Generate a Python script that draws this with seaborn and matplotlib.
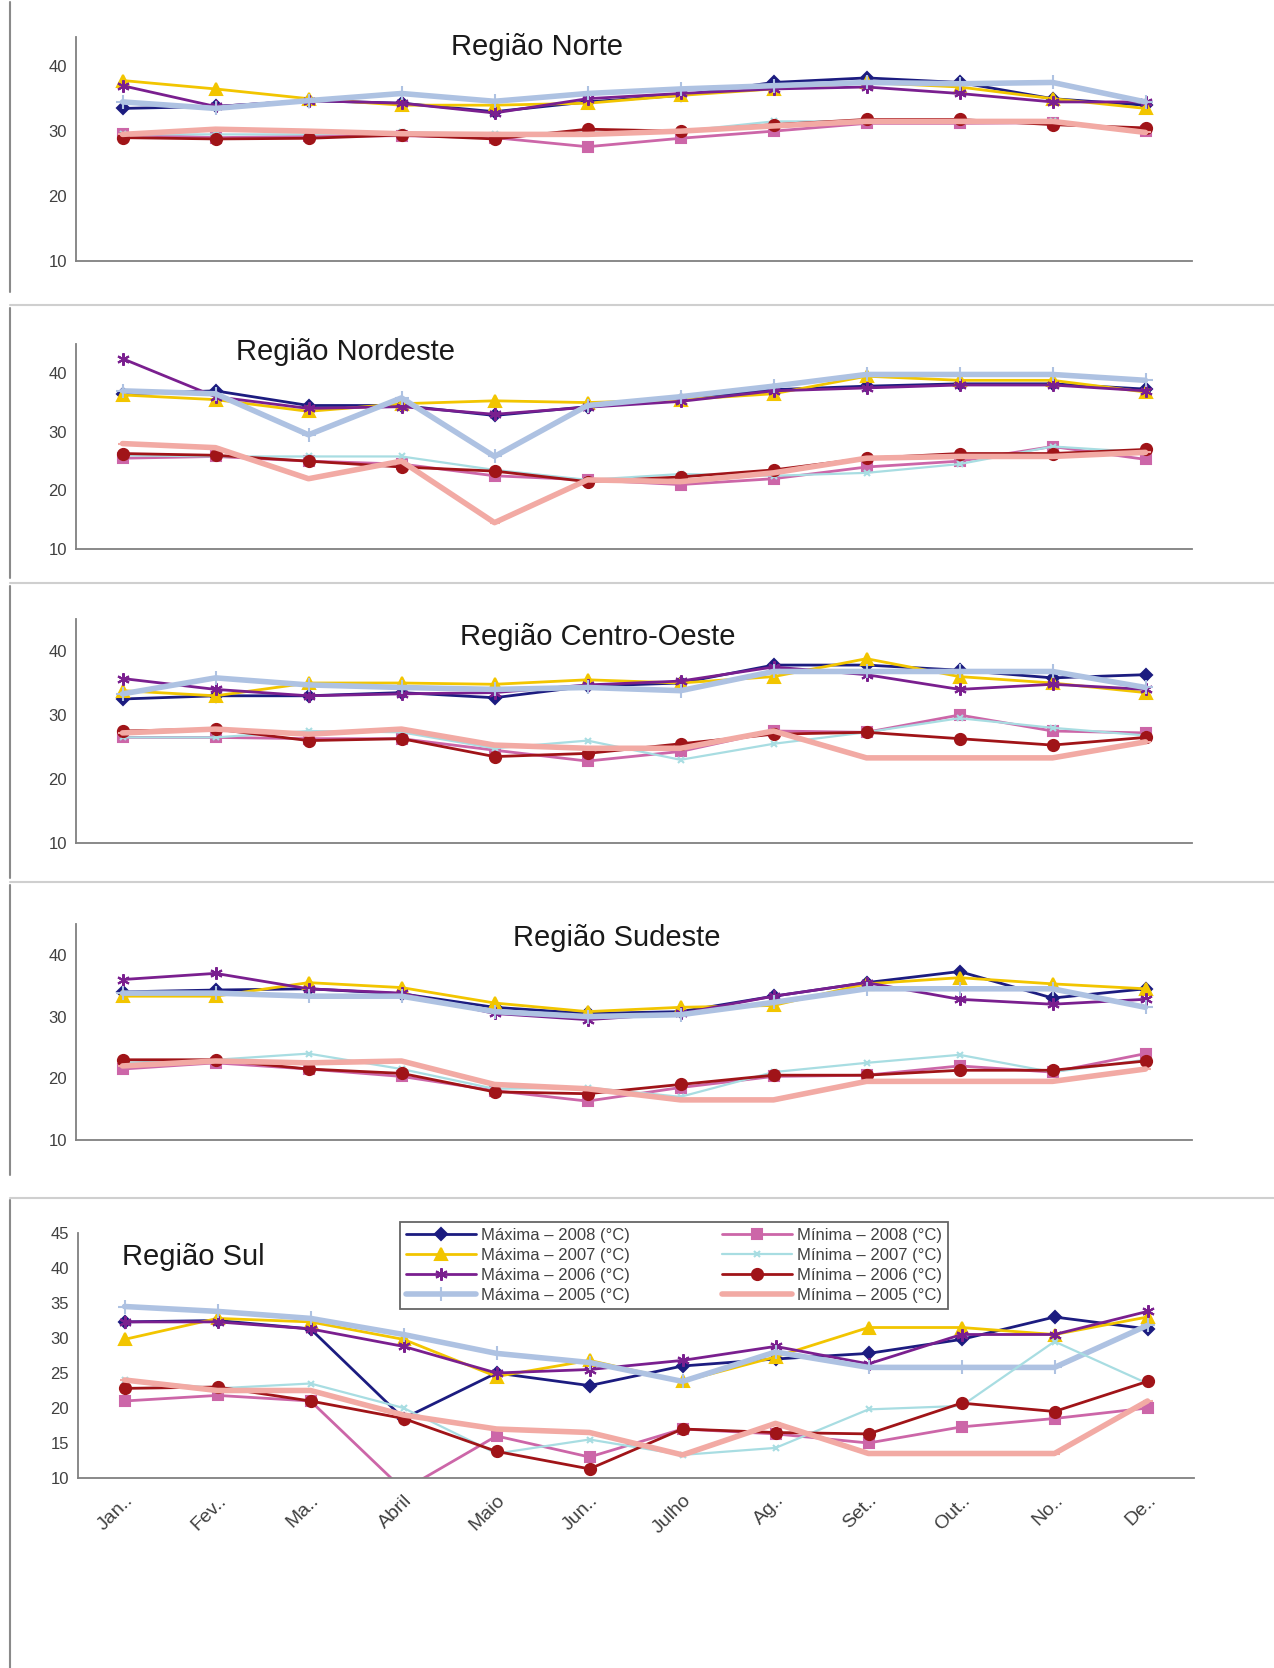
import matplotlib
matplotlib.use('Agg')
import matplotlib.pyplot as plt
import seaborn as sns
import numpy as np
import pandas as pd
from matplotlib.lines import Line2D

# meses (rótulos truncados como no gráfico original)
meses = ['Jan..', 'Fev..', 'Ma..', 'Abril', 'Maio', 'Jun..', 'Julho',
         'Ag..', 'Set..', 'Out..', 'No..', 'De..']

rotulos = ['Máxima – 2008 (°C)', 'Máxima – 2007 (°C)', 'Máxima – 2006 (°C)', 'Máxima – 2005 (°C)',
           'Mínima – 2008 (°C)', 'Mínima – 2007 (°C)', 'Mínima – 2006 (°C)', 'Mínima – 2005 (°C)']

# Região Norte
norte_max08 = [33.5, 33.8, 34.7, 34.3, 33.0, 34.5, 35.5, 37.5, 38.2, 37.5, 35.0, 34.0]
norte_max07 = [37.8, 36.5, 35.0, 34.0, 34.0, 34.3, 35.5, 36.5, 37.5, 36.8, 35.0, 33.5]
norte_max06 = [37.0, 33.8, 34.7, 34.3, 32.8, 35.0, 35.8, 36.5, 36.8, 35.8, 34.5, 34.5]
norte_max05 = [34.5, 33.5, 34.7, 35.8, 34.6, 35.8, 36.5, 37.0, 37.5, 37.3, 37.5, 34.5]
norte_min08 = [29.5, 29.0, 29.2, 29.3, 29.0, 27.6, 28.9, 30.0, 31.2, 31.2, 31.3, 30.0]
norte_min07 = [29.5, 29.5, 29.5, 29.8, 29.6, 29.8, 30.0, 31.5, 31.5, 31.5, 31.5, 30.0]
norte_min06 = [29.0, 28.8, 28.9, 29.4, 28.8, 30.3, 30.0, 31.0, 31.8, 31.8, 31.0, 30.5]
norte_min05 = [29.5, 30.3, 30.0, 29.6, 29.5, 29.5, 30.0, 30.8, 31.5, 31.5, 31.5, 29.8]

# Região Nordeste
nordeste_max08 = [36.5, 37.0, 34.5, 34.5, 32.8, 34.3, 35.5, 37.2, 37.8, 38.2, 38.2, 37.3]
nordeste_max07 = [36.3, 35.5, 33.5, 34.8, 35.3, 35.0, 35.5, 36.5, 39.5, 38.8, 38.8, 36.8]
nordeste_max06 = [42.5, 36.0, 34.0, 34.3, 33.0, 34.2, 35.2, 37.0, 37.5, 38.0, 38.0, 37.0]
nordeste_max05 = [37.0, 36.5, 29.5, 35.8, 25.8, 34.5, 36.0, 37.8, 39.8, 39.8, 39.8, 38.8]
nordeste_min08 = [25.5, 25.8, 25.0, 24.5, 22.5, 21.8, 21.0, 22.0, 24.0, 25.0, 27.5, 25.3]
nordeste_min07 = [26.0, 25.8, 25.8, 25.8, 23.5, 21.8, 22.8, 22.5, 23.0, 24.5, 27.5, 26.5]
nordeste_min06 = [26.3, 26.0, 25.0, 24.0, 23.3, 21.5, 22.3, 23.5, 25.5, 26.3, 26.3, 27.0]
nordeste_min05 = [28.0, 27.3, 22.0, 25.0, 14.5, 21.8, 21.5, 23.0, 25.5, 25.8, 25.8, 26.5]

# Região Centro-Oeste
centro_max08 = [32.5, 33.0, 33.0, 33.5, 32.7, 34.5, 35.0, 37.8, 37.8, 37.0, 35.8, 36.3]
centro_max07 = [33.8, 33.0, 35.0, 35.0, 34.8, 35.5, 35.0, 36.0, 38.8, 36.0, 35.0, 33.5]
centro_max06 = [35.7, 34.0, 33.0, 33.3, 33.5, 34.7, 35.3, 37.5, 36.3, 34.0, 34.8, 34.0]
centro_max05 = [33.3, 35.8, 34.7, 34.3, 34.0, 34.3, 33.8, 36.8, 36.8, 36.8, 36.8, 34.3]
centro_min08 = [26.5, 26.5, 26.3, 26.3, 24.5, 22.8, 24.3, 27.5, 27.3, 30.0, 27.5, 27.2]
centro_min07 = [26.5, 26.5, 27.5, 27.3, 24.8, 26.0, 23.0, 25.5, 27.3, 29.5, 28.0, 26.8]
centro_min06 = [27.5, 27.8, 26.0, 26.3, 23.5, 24.0, 25.5, 27.0, 27.3, 26.3, 25.3, 26.5]
centro_min05 = [27.2, 27.8, 27.0, 27.8, 25.3, 24.8, 24.8, 27.5, 23.3, 23.3, 23.3, 25.8]

# Região Sudeste
sudeste_max08 = [34.0, 34.3, 34.5, 33.7, 31.5, 30.5, 30.8, 33.3, 35.5, 37.3, 33.0, 34.5]
sudeste_max07 = [33.3, 33.3, 35.5, 34.7, 32.2, 30.8, 31.5, 31.8, 35.3, 36.3, 35.3, 34.5]
sudeste_max06 = [36.0, 37.0, 34.5, 33.8, 30.5, 29.5, 30.5, 33.3, 35.5, 32.8, 32.0, 32.8]
sudeste_max05 = [33.8, 33.8, 33.3, 33.3, 30.8, 30.0, 30.3, 32.3, 34.5, 34.5, 34.5, 31.5]
sudeste_min08 = [21.5, 22.5, 21.5, 20.3, 18.0, 16.3, 18.5, 20.3, 20.5, 22.0, 21.0, 24.0]
sudeste_min07 = [22.5, 23.0, 24.0, 21.5, 18.3, 18.5, 17.0, 21.0, 22.5, 23.8, 21.0, 23.0]
sudeste_min06 = [23.0, 23.0, 21.5, 20.8, 17.8, 17.5, 19.0, 20.5, 20.5, 21.3, 21.3, 22.8]
sudeste_min05 = [22.0, 22.8, 22.5, 22.8, 19.0, 18.3, 16.5, 16.5, 19.5, 19.5, 19.5, 21.5]

# Região Sul
sul_max08 = [32.3, 32.5, 31.3, 18.5, 25.0, 23.2, 26.0, 27.0, 27.8, 29.8, 33.0, 31.3]
sul_max07 = [29.8, 32.8, 32.3, 29.8, 24.5, 26.8, 23.8, 27.3, 31.5, 31.5, 30.5, 33.0]
sul_max06 = [32.3, 32.3, 31.3, 28.8, 25.0, 25.5, 26.8, 28.8, 26.3, 30.5, 30.5, 33.8]
sul_max05 = [34.5, 33.8, 32.8, 30.5, 27.8, 26.5, 23.8, 28.0, 25.8, 25.8, 25.8, 31.8]
sul_min08 = [21.0, 21.8, 21.0, 8.3, 16.0, 13.0, 17.0, 16.3, 15.0, 17.3, 18.5, 20.0]
sul_min07 = [24.0, 22.8, 23.5, 20.0, 13.5, 15.5, 13.3, 14.3, 19.8, 20.3, 29.5, 23.5]
sul_min06 = [22.8, 23.0, 21.0, 18.5, 13.8, 11.3, 17.0, 16.5, 16.3, 20.7, 19.5, 23.8]
sul_min05 = [24.0, 22.5, 22.5, 19.0, 17.0, 16.5, 13.3, 17.8, 13.5, 13.5, 13.5, 21.0]

cores = ['#1c1c80', '#f2c500', '#7a1f8f', '#aec2e2',
         '#cc66a8', '#a8dde2', '#a01418', '#f2aaa4']
marcadores = ['D', '^', (6, 2, 0), '+', 's', 'x', 'o', '_']
larguras = [2.0, 2.0, 2.0, 4.0, 2.0, 1.6, 2.0, 4.0]
tamanhos = [6, 8, 9, 10, 7, 5, 8, 7]

W, H = 1274, 1668
sns.set_theme(style='white')
plt.rcParams['font.family'] = ['Liberation Sans', 'DejaVu Sans']

fig = plt.figure(figsize=(W / 100, H / 100), dpi=100)
fig.patch.set_facecolor('white')


def eixo_px(left, top, right, bottom):
    return fig.add_axes([left / W, 1 - bottom / H, (right - left) / W, (bottom - top) / H])


paineis = [
    ('Região Norte', [norte_max08, norte_max07, norte_max06, norte_max05,
                      norte_min08, norte_min07, norte_min06, norte_min05],
     (76, 37, 1192, 261), 44.5, (537, 47), 'center'),
    ('Região Nordeste', [nordeste_max08, nordeste_max07, nordeste_max06, nordeste_max05,
                         nordeste_min08, nordeste_min07, nordeste_min06, nordeste_min05],
     (76, 344, 1192, 549), 45, (345, 352), 'center'),
    ('Região Centro-Oeste', [centro_max08, centro_max07, centro_max06, centro_max05,
                             centro_min08, centro_min07, centro_min06, centro_min05],
     (76, 619, 1192, 843), 45, (598, 637), 'center'),
    ('Região Sudeste', [sudeste_max08, sudeste_max07, sudeste_max06, sudeste_max05,
                        sudeste_min08, sudeste_min07, sudeste_min06, sudeste_min05],
     (76, 924, 1192, 1140), 45, (617, 938), 'center'),
    ('Região Sul', [sul_max08, sul_max07, sul_max06, sul_max05,
                    sul_min08, sul_min07, sul_min06, sul_min05],
     (78, 1233, 1194, 1478), 45, (122, 1257), 'left'),
]

handles = []
for n, (titulo, series, caixa, ytop, pos_titulo, alinh) in enumerate(paineis):
    ax = eixo_px(*caixa)
    ultimo = n == len(paineis) - 1
    for i, valores in enumerate(series):
        df = pd.DataFrame({'mes': np.arange(12), 'temp': valores})
        sns.lineplot(data=df, x='mes', y='temp', ax=ax, color=cores[i],
                     marker=marcadores[i], lw=larguras[i], ms=tamanhos[i],
                     mec=cores[i], mew=1.5, legend=False)
        if ultimo:
            linha = ax.lines[-1]
            linha.set_label(rotulos[i])
            handles.append(linha)

    ax.set_xlim(-0.5, 11.5)
    ax.set_ylim(10, ytop)
    if ultimo:
        ax.set_yticks(np.arange(10, 46, 5))
    else:
        ax.set_yticks([10, 20, 30, 40])
    ax.set_xticks(np.arange(12))
    ax.set_xticks(np.arange(-0.5, 12, 1), minor=True)
    ax.tick_params(axis='x', which='major', length=0, pad=10)
    ax.tick_params(axis='x', which='minor', length=6, width=1.2, color='#808080', direction='out')
    ax.tick_params(axis='y', length=3, width=1, color='#808080', labelsize=12, labelcolor='#404040')
    if ultimo:
        ax.set_xticklabels(meses, rotation=45, ha='right', rotation_mode='anchor',
                           fontsize=14, color='#404040')
    else:
        ax.set_xticklabels([])
    ax.set_xlabel('')
    ax.set_ylabel('')
    for lado in ['top', 'right']:
        ax.spines[lado].set_visible(False)
    for lado in ['left', 'bottom']:
        ax.spines[lado].set_color('#808080')
        ax.spines[lado].set_linewidth(1.3)
    ax.set_facecolor('none')

    fig.text(pos_titulo[0] / W, 1 - pos_titulo[1] / H, titulo, fontsize=21,
             ha=alinh, va='center', color='#1a1a1a')

    if ultimo:
        leg = ax.legend(handles=handles, ncol=2, loc='upper left',
                        bbox_to_anchor=(392 / W, 1 - 1214 / H), bbox_transform=fig.transFigure,
                        fontsize=12, frameon=True, fancybox=False, borderpad=0.35,
                        labelspacing=0.3, columnspacing=5.5, handlelength=4.2,
                        handletextpad=0.3)
        leg.get_frame().set_edgecolor('#404040')
        leg.get_frame().set_linewidth(1.3)
        for t in leg.get_texts():
            t.set_color('#404040')

# molduras dos painéis
for y in [305, 583, 882, 1198]:
    fig.add_artist(Line2D([10 / W, 1], [1 - y / H, 1 - y / H], color='#cfcfcf', lw=1.5))
for y0, y1 in [(2, 292), (308, 578), (586, 878), (885, 1175), (1200, 1668)]:
    fig.add_artist(Line2D([10 / W, 10 / W], [1 - y0 / H, 1 - y1 / H], color='#8a8a8a', lw=1.5))

fig.savefig('out.png', dpi=100, facecolor='white')
